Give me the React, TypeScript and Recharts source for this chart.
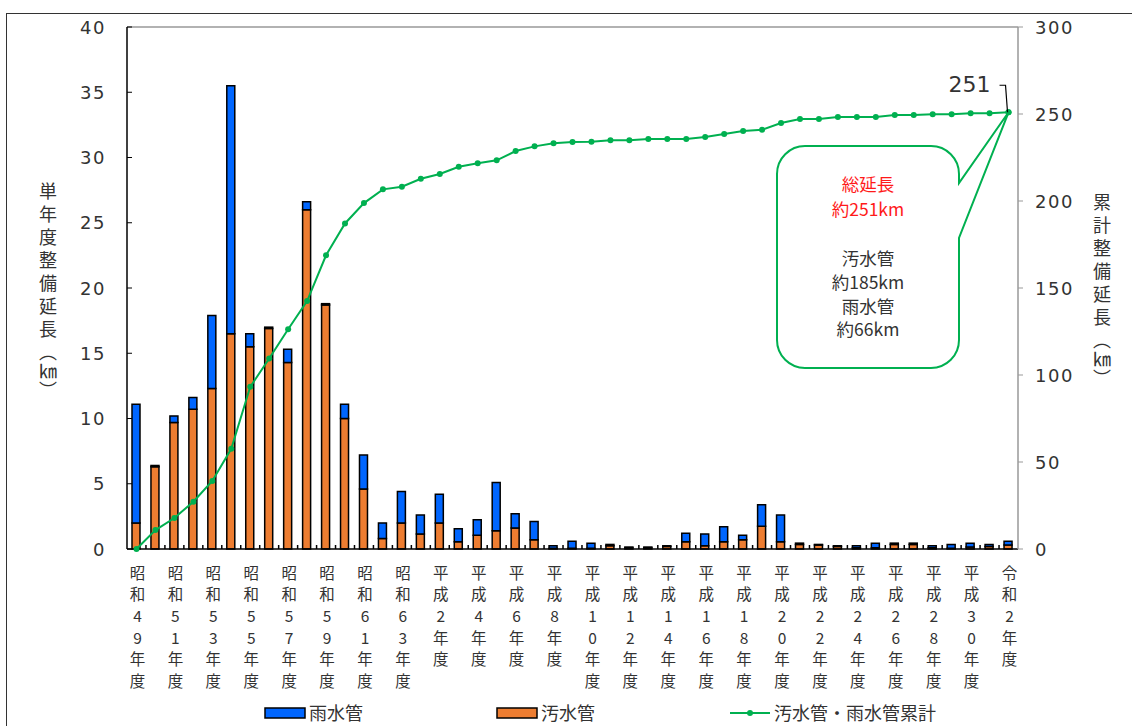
import React from 'react';
import {
    Bar,
    ComposedChart,
    Line,
    ReferenceDot,
    ReferenceLine,
    XAxis,
    YAxis
} from 'recharts';

// 年度（昭和49年度〜令和2年度）
const years = [
    '昭和49年度', '昭和50年度', '昭和51年度', '昭和52年度', '昭和53年度', '昭和54年度',
    '昭和55年度', '昭和56年度', '昭和57年度', '昭和58年度', '昭和59年度', '昭和60年度',
    '昭和61年度', '昭和62年度', '昭和63年度', '平成元年度', '平成2年度', '平成3年度',
    '平成4年度', '平成5年度', '平成6年度', '平成7年度', '平成8年度', '平成9年度',
    '平成10年度', '平成11年度', '平成12年度', '平成13年度', '平成14年度', '平成15年度',
    '平成16年度', '平成17年度', '平成18年度', '平成19年度', '平成20年度', '平成21年度',
    '平成22年度', '平成23年度', '平成24年度', '平成25年度', '平成26年度', '平成27年度',
    '平成28年度', '平成29年度', '平成30年度', '令和元年度', '令和2年度'
];

// 汚水管（km）
const sewage = [
    2.0, 6.3, 9.7, 10.7, 12.3, 16.5, 15.5, 16.9, 14.3, 26.0, 18.7, 10.0,
    4.6, 0.8, 2.0, 1.15, 2.0, 0.55, 1.05, 1.4, 1.6, 0.7, 0.05, 0.05,
    0.05, 0.25, 0.1, 0.1, 0.2, 0.55, 0.25, 0.55, 0.7, 1.75, 0.55, 0.35,
    0.3, 0.2, 0.1, 0.1, 0.35, 0.35, 0.1, 0.05, 0.15, 0.2, 0.3
];

// 雨水管（km）
const rain = [
    9.1, 0.1, 0.5, 0.9, 5.6, 19.0, 1.0, 0.1, 1.0, 0.6, 0.1, 1.1,
    2.6, 1.2, 2.4, 1.45, 2.2, 1.0, 1.2, 3.7, 1.1, 1.4, 0.2, 0.55,
    0.4, 0.1, 0.05, 0.05, 0.05, 0.65, 0.9, 1.15, 0.35, 1.65, 2.05, 0.1,
    0.05, 0.05, 0.15, 0.35, 0.1, 0.1, 0.15, 0.3, 0.3, 0.15, 0.3
];

// 汚水管・雨水管累計（km）
const cumulative = [
    0, 10.9, 17.8, 27.2, 39.1, 57.6, 93.2, 109.5, 126.3, 142.5, 168.8, 187.1,
    198.8, 206.7, 208.2, 212.8, 215.5, 219.7, 221.7, 223.4, 228.7, 231.4, 233.2, 233.9,
    234.1, 234.9, 234.9, 235.6, 235.6, 235.6, 236.8, 238.5, 240.2, 241.0, 244.8, 247.1,
    247.1, 248.3, 248.3, 248.3, 249.4, 249.4, 249.8, 249.8, 250.4, 250.4, 251.0
];

const leftTicks = [0, 5, 10, 15, 20, 25, 30, 35, 40];
const rightTicks = [0, 50, 100, 150, 200, 250, 300];

const data = years.map((year, i) => ({
    year,
    sewage: sewage[i],
    rain: rain[i],
    total: cumulative[i]
}));

const W = 1132;
const H = 726;
const PLOT_LEFT = 127;
const PLOT_RIGHT = 1018;
const BAND = (PLOT_RIGHT - PLOT_LEFT) / years.length;

const BLUE = '#0066FF';
const ORANGE = '#ED7D31';
const GREEN = '#00B050';
const TEXT = '#333';
const CJK = "'Noto Sans CJK JP', sans-serif";
const NUM = "'DejaVu Sans', sans-serif";

const LeftTick = ({ x, y, payload }: any) => (
    <g>
        <line x1={x} x2={x + 5} y1={y} y2={y} stroke="#000" strokeWidth={1} />
        <text x={x - 21} y={y} dy={6.5} textAnchor="end" fontSize={18} letterSpacing={1.5}
            fontFamily={NUM} fill={TEXT}>{payload.value}</text>
    </g>
);

const RightTick = ({ x, y, payload }: any) => (
    <g>
        <line x1={x} x2={x + 5} y1={y} y2={y} stroke="#999" strokeWidth={1} />
        <text x={x + 17} y={y} dy={6.5} textAnchor="start" fontSize={18} letterSpacing={1.5}
            fontFamily={NUM} fill={TEXT}>{payload.value}</text>
    </g>
);

// 年度ラベルは1文字ずつ縦に積む（1年おき）
const YearTick = ({ x, y, payload, index }: any) => {
    const chars = Array.from(String(payload.value));
    return (
        <g>
            {index < years.length - 1 && (
                <line x1={x + BAND / 2} x2={x + BAND / 2} y1={y} y2={y - 4} stroke="#000" strokeWidth={1.5} />
            )}
            {index % 2 === 0 && chars.map((c, i) => (
                <text key={i} x={x + 1} y={y + 29.5 + i * 21.7} textAnchor="middle" fontSize={15.5}
                    fontFamily={CJK} fill={TEXT}>{c}</text>
            ))}
        </g>
    );
};

// 吹き出し（最終年度の累計点を指す）
const Callout = ({ cx, cy }: any) => {
    if (cx == null || cy == null) return null;
    const x1 = 777, x2 = 959, y1 = 146, y2 = 368, r = 28;
    const p1 = 183, p2 = 238;
    const d = `M${x1 + r},${y1} H${x2 - r} A${r},${r} 0 0 1 ${x2},${y1 + r} V${p1} L${cx},${cy} L${x2},${p2} V${y2 - r} A${r},${r} 0 0 1 ${x2 - r},${y2} H${x1 + r} A${r},${r} 0 0 1 ${x1},${y2 - r} V${y1 + r} A${r},${r} 0 0 1 ${x1 + r},${y1} Z`;
    const mid = (x1 + x2) / 2;
    return (
        <g>
            <path d={d} fill="#fff" stroke={GREEN} strokeWidth={2} strokeLinejoin="miter" />
            <circle cx={cx} cy={cy} r={3} fill={GREEN} />
            <polyline points={`${cx - 9},${cy - 27} ${cx - 3},${cy - 27} ${cx - 1},${cy}`}
                fill="none" stroke="#000" strokeWidth={1.2} />
            <text x={cx - 18} y={cy - 20} textAnchor="end" fontSize={22} fontFamily={NUM} fill={TEXT}>251</text>
            <g fontFamily={CJK} fontSize={17.5} textAnchor="middle">
                <text x={mid} y={191} fill="#FF1A1A">総延長</text>
                <text x={mid} y={216} fill="#FF1A1A">約251km</text>
                <text x={mid} y={265} fill={TEXT}>汚水管</text>
                <text x={mid} y={289} fill={TEXT}>約185km</text>
                <text x={mid} y={313} fill={TEXT}>雨水管</text>
                <text x={mid} y={336} fill={TEXT}>約66km</text>
            </g>
        </g>
    );
};

const verticalTitle: React.CSSProperties = {
    position: 'absolute',
    writingMode: 'vertical-rl',
    fontFamily: CJK,
    fontSize: 18,
    lineHeight: 1,
    letterSpacing: 5,
    color: TEXT
};

const App: React.FC = () => {
    const last = years.length - 1;
    return (
        <div style={{ position: 'absolute', left: 0, top: 0, width: W, height: H, overflow: 'hidden', background: '#fff' }}>
            <div style={{ position: 'absolute', left: 6, top: 13, width: 1200, height: 800, border: '1px solid #333' }} />
            <ComposedChart
                width={W}
                height={H}
                data={data}
                margin={{ top: 27, right: 0, bottom: 0, left: 0 }}
                barGap={0}
                style={{ position: 'absolute', left: 0, top: 0 }}
            >
                <XAxis
                    dataKey="year"
                    height={177}
                    interval={0}
                    tickSize={0}
                    tickMargin={0}
                    tickLine={false}
                    axisLine={{ stroke: '#000', strokeWidth: 1.5 }}
                    tick={<YearTick />}
                />
                <YAxis
                    yAxisId="left"
                    width={127}
                    domain={[0, 40]}
                    ticks={leftTicks}
                    interval={0}
                    tickSize={0}
                    tickMargin={0}
                    tickLine={false}
                    axisLine={{ stroke: '#000', strokeWidth: 1.5 }}
                    tick={<LeftTick />}
                />
                <YAxis
                    yAxisId="right"
                    orientation="right"
                    width={114}
                    domain={[0, 300]}
                    ticks={rightTicks}
                    interval={0}
                    tickSize={0}
                    tickMargin={0}
                    tickLine={false}
                    axisLine={{ stroke: '#999', strokeWidth: 1.5 }}
                    tick={<RightTick />}
                />
                <ReferenceLine yAxisId="left" y={40} stroke="#999" strokeWidth={1.5} />
                <Bar yAxisId="left" dataKey="sewage" name="汚水管" stackId="a" fill={ORANGE}
                    stroke="#000" strokeWidth={1.5} barSize={8} isAnimationActive={false} />
                <Bar yAxisId="left" dataKey="rain" name="雨水管" stackId="a" fill={BLUE}
                    stroke="#000" strokeWidth={1.5} barSize={8} isAnimationActive={false} />
                <Line yAxisId="right" type="linear" dataKey="total" name="汚水管・雨水管累計"
                    stroke={GREEN} strokeWidth={2}
                    dot={{ r: 3, fill: GREEN, stroke: GREEN, strokeWidth: 0 }}
                    isAnimationActive={false} />
                <ReferenceDot yAxisId="right" x={years[last]} y={cumulative[last]} r={0}
                    ifOverflow="visible" shape={(p: any) => <Callout {...p} />} />
            </ComposedChart>

            <div style={{ ...verticalTitle, left: 39, top: 182 }}>
                単年度整備延長<span style={{ letterSpacing: 1 }}>（㎞）</span>
            </div>
            <div style={{ ...verticalTitle, left: 1093, top: 193 }}>
                累計整備延長<span style={{ letterSpacing: 1 }}>（㎞）</span>
            </div>

            <svg width={W} height={H} style={{ position: 'absolute', left: 0, top: 0, pointerEvents: 'none' }}>
                <g fontFamily={CJK} fontSize={18} fill={TEXT}>
                    <rect x={265} y={708} width={40} height={10} fill={BLUE} stroke="#000" strokeWidth={1.5} />
                    <text x={309} y={720}>雨水管</text>
                    <rect x={497} y={708} width={40} height={10} fill={ORANGE} stroke="#000" strokeWidth={1.5} />
                    <text x={541} y={720}>汚水管</text>
                    <line x1={730} x2={770} y1={713} y2={713} stroke={GREEN} strokeWidth={2} />
                    <circle cx={750} cy={713} r={3} fill={GREEN} />
                    <text x={774} y={720}>汚水管・雨水管累計</text>
                </g>
            </svg>
        </div>
    );
};

export default App;
